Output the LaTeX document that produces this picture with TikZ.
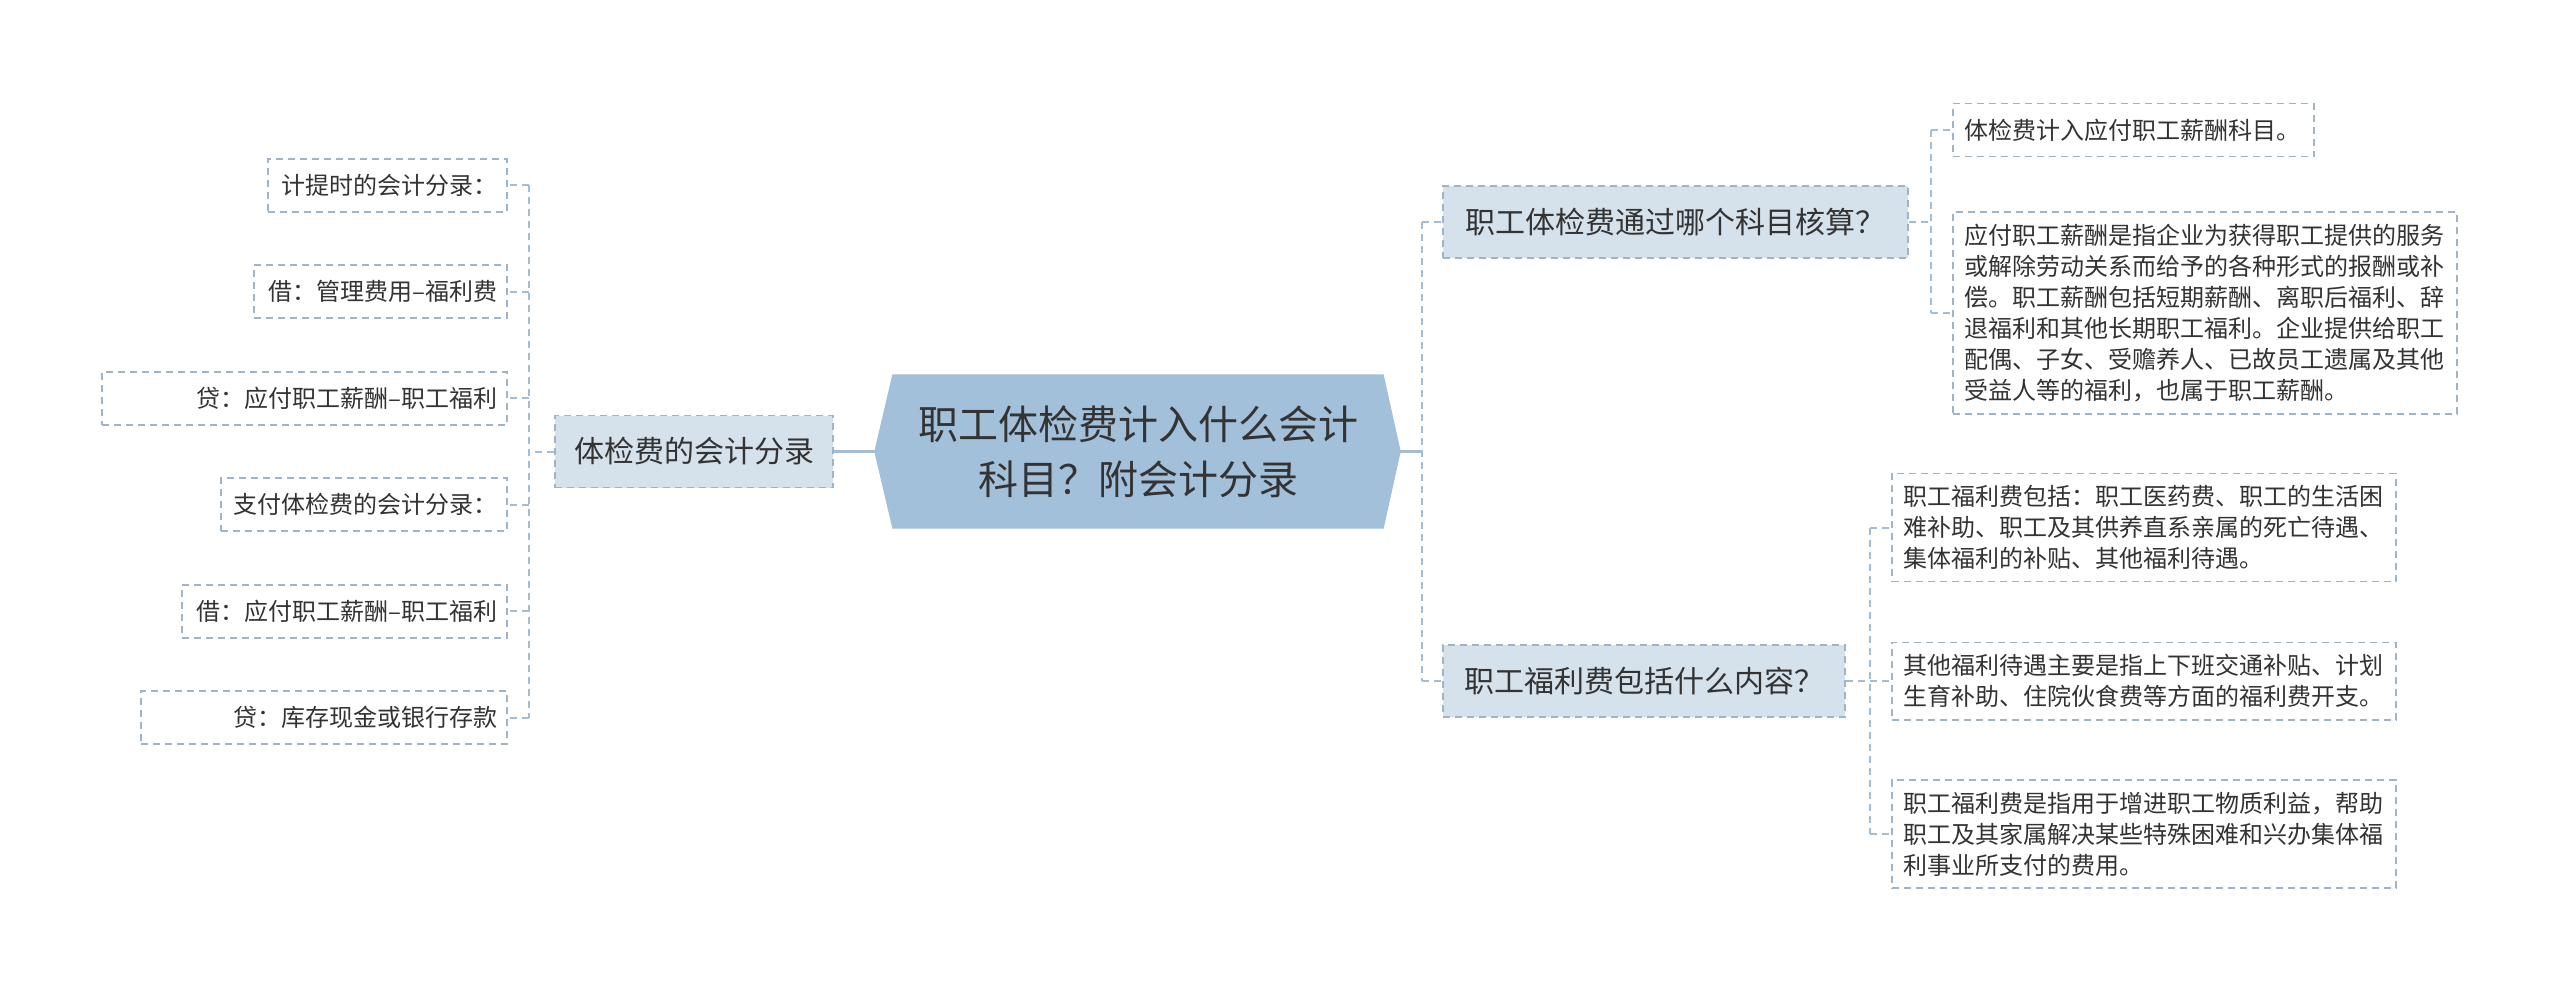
\documentclass[tikz,border=0pt]{standalone}
\usepackage{fontspec}
\setmainfont{Noto Sans CJK SC}
\usetikzlibrary{calc,backgrounds}
\definecolor{cfill}{HTML}{A3C0DB}
\definecolor{sfill}{HTML}{D5E1EB}
\definecolor{bord}{HTML}{A0B4C8}
\definecolor{lnc}{HTML}{A5BDD3}
\definecolor{txt}{HTML}{333333}
\begin{document}
\begin{tikzpicture}[x=1pt,y=-1pt,
  every node/.style={text=txt, inner sep=0pt},
  boxdash/.style={draw=bord, line width=1.6pt, dash pattern=on 7pt off 5pt},
  leaf/.style={boxdash, fill=white, minimum height=53pt, font=\fontsize{24}{31}\selectfont},
  lleaf/.style={leaf, align=right, inner xsep=10pt, text width=#1},
  rleaf/.style={leaf, align=left, inner xsep=12pt, text width=#1},
  para/.style={leaf, align=left, text width=480pt, inner xsep=12pt, inner ysep=12pt},
  subnode/.style={boxdash, fill=sfill, minimum height=72pt, font=\fontsize{30}{36}\selectfont},
  centralnode/.style={font=\fontsize{40}{55}\selectfont, align=center, minimum width=490pt, minimum height=153pt},
  dline/.style={draw=lnc, line width=2pt, dash pattern=on 7pt off 5pt},
  mline/.style={draw=lnc, line width=3pt}
]
\useasboundingbox (0,0) rectangle (2560,996);

% central
\node[centralnode] (c) at (1138,451.5) {职工体检费计入什么会计\\科目？附会计分录};
\coordinate (cw) at ($(c.west)+(-18,0)$);
\coordinate (ce) at ($(c.east)+(17,0)$);
\begin{scope}[on background layer]
  \fill[white] (0,0) rectangle (2560,996);
  \filldraw[fill=cfill, draw=cfill, line width=1pt] (c.north west) -- (c.north east) -- (ce) -- (c.south east) -- (c.south west) -- (cw) -- cycle;
\end{scope}

% left branch
\node[subnode, minimum width=278pt] (ls) at (694,451.5) {体检费的会计分录};
\node[lleaf=219pt, anchor=east] (l1) at (508,185.25) {计提时的会计分录：};
\node[lleaf=233pt, anchor=east] (l2) at (508,291.75) {借：管理费用–福利费};
\node[lleaf=385pt, anchor=east] (l3) at (508,398.25) {贷：应付职工薪酬–职工福利};
\node[lleaf=266pt, anchor=east] (l4) at (508,504.75) {支付体检费的会计分录：};
\node[lleaf=305pt, anchor=east] (l5) at (508,611.25) {借：应付职工薪酬–职工福利};
\node[lleaf=346pt, anchor=east] (l6) at (508,717.75) {贷：库存现金或银行存款};

% right upper branch
\node[subnode, minimum width=465pt] (r1) at (1675.5,222) {职工体检费通过哪个科目核算？};
\node[rleaf=337pt, anchor=west] (a1) at (1952,130) {体检费计入应付职工薪酬科目。};
\node[para, anchor=west] (a2) at (1952,313) {应付职工薪酬是指企业为获得职工提供的服务\\或解除劳动关系而给予的各种形式的报酬或补\\偿。职工薪酬包括短期薪酬、离职后福利、辞\\退福利和其他长期职工福利。企业提供给职工\\配偶、子女、受赡养人、已故员工遗属及其他\\受益人等的福利，也属于职工薪酬。};

% right lower branch
\node[subnode, minimum width=402pt] (r2) at (1644,681) {职工福利费包括什么内容？};
\node[para, anchor=west] (b1) at (1891,527.5) {职工福利费包括：职工医药费、职工的生活困\\难补助、职工及其供养直系亲属的死亡待遇、\\集体福利的补贴、其他福利待遇。};
\node[para, anchor=west] (b2) at (1891,681) {其他福利待遇主要是指上下班交通补贴、计划\\生育补助、住院伙食费等方面的福利费开支。};
\node[para, anchor=west] (b3) at (1891,834) {职工福利费是指用于增进职工物质利益，帮助\\职工及其家属解决某些特殊困难和兴办集体福\\利事业所支付的费用。};

% connectors: central
\draw[mline] (cw) -- (ls.east);
\coordinate (rj) at ($(ce)+(22,0)$);
\draw[mline] (ce) -- (rj);
\draw[dline] (r1.west -| rj) -- (r2.west -| rj);
\draw[dline] (r1.west -| rj) -- (r1.west);
\draw[dline] (r2.west -| rj) -- (r2.west);

% connectors: left
\coordinate (lj) at ($(ls.west)+(-25,0)$);
\draw[dline] (ls.west) -- (lj);
\draw[dline] (l1.east -| lj) -- (l6.east -| lj);
\foreach \n in {l1,l2,l3,l4,l5,l6} {
  \draw[dline] (\n.east -| lj) -- (\n.east);
}

% connectors: right upper
\coordinate (aj) at ($(r1.east)+(22,0)$);
\draw[dline] (r1.east) -- (aj);
\draw[dline] (a1.west -| aj) -- (a2.west -| aj);
\draw[dline] (a1.west -| aj) -- (a1.west);
\draw[dline] (a2.west -| aj) -- (a2.west);

% connectors: right lower
\coordinate (bj) at ($(r2.east)+(24,0)$);
\draw[dline] (r2.east) -- (bj);
\draw[dline] (b1.west -| bj) -- (b3.west -| bj);
\foreach \n in {b1,b2,b3} {
  \draw[dline] (\n.west -| bj) -- (\n.west);
}
\end{tikzpicture}
\end{document}
